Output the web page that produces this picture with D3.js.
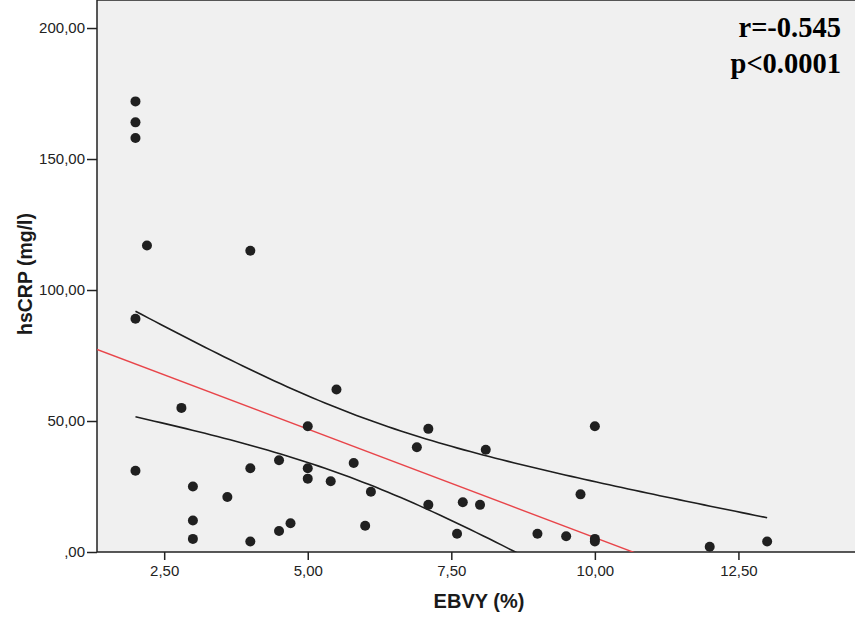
<!DOCTYPE html>
<html lang="en">
<head>
    <meta charset="UTF-8">
    <title>hsCRP vs EBVY</title>
    <script src="https://d3js.org/d3.v7.min.js"></script>
    <style>
        body { margin: 0; background: #fff; }
        svg { display: block; }
    </style>
</head>
<body>
    <!-- Div id for the chart -->
    <div id="my_dataviz"></div>

    <script>
        // data
        var ebvy = [2, 2, 2, 2.2, 2, 2, 2.8, 3, 3, 3, 3.6, 4, 4, 4, 4.5, 4.5, 4.7, 5, 5, 5,
            5.5, 5.4, 5.8, 6.1, 6.0, 6.9, 7.1, 7.1, 7.6, 7.7, 8.0, 8.1, 9.0, 9.5, 9.75, 10, 10, 10, 12, 13];
        var hscrp = [172, 164, 158, 117, 89, 31, 55, 25, 12, 5, 21, 115, 32, 4, 35, 8, 11, 48, 32, 28,
            62, 27, 34, 23, 10, 40, 47, 18, 7, 19, 18, 39, 7, 6, 22, 48, 5, 4, 2, 4];

        // tick values and their labels (comma decimals, as in the original)
        var xTicks = [2.5, 5, 7.5, 10, 12.5];
        var xTickLabels = ["2,50", "5,00", "7,50", "10,00", "12,50"];
        var yTicks = [0, 50, 100, 150, 200];
        var yTickLabels = [",00", "50,00", "100,00", "150,00", "200,00"];

        var statsText = ["r=-0.545", "p<0.0001"];

        // size of the picture and plot area
        var W = 855, H = 618;
        var plot = { left: 97, top: 0, right: 856, bottom: 552 };

        var svg = d3.select("#my_dataviz")
            .append("svg")
            .attr("width", W)
            .attr("height", H);

        // scales
        var x = d3.scaleLinear()
            .domain([1.33, 14.53])
            .range([plot.left, 855]);
        var y = d3.scaleLinear()
            .domain([0, 210.7])
            .range([plot.bottom, plot.top]);

        // grey plot background with frame
        svg.append("rect")
            .attr("x", plot.left)
            .attr("y", plot.top)
            .attr("width", plot.right - plot.left + 5)
            .attr("height", plot.bottom - plot.top)
            .attr("fill", "#f0f0f0")
            .attr("stroke", "#222")
            .attr("stroke-width", 1.5);

        // clip so the fit lines stop at the axes
        svg.append("clipPath")
            .attr("id", "clip")
            .append("rect")
            .attr("x", plot.left)
            .attr("y", plot.top)
            .attr("width", plot.right - plot.left)
            .attr("height", plot.bottom - plot.top);

        // linear regression + 95% CI of the mean
        var n = ebvy.length;
        var mx = d3.mean(ebvy), my = d3.mean(hscrp);
        var sxx = d3.sum(ebvy, function (d) { return (d - mx) * (d - mx); });
        var sxy = d3.sum(ebvy, function (d, i) { return (d - mx) * (hscrp[i] - my); });
        var slope = sxy / sxx;
        var icpt = my - slope * mx;
        var sse = d3.sum(ebvy, function (d, i) {
            var e = hscrp[i] - (icpt + slope * d);
            return e * e;
        });
        var se = Math.sqrt(sse / (n - 2));
        var tval = 2.024; // t(0.975, 38)

        function fit(v) { return icpt + slope * v; }
        function ci(v, sign) {
            return fit(v) + sign * tval * se * Math.sqrt(1 / n + (v - mx) * (v - mx) / sxx);
        }

        var lineGroup = svg.append("g").attr("clip-path", "url(#clip)");

        // red fit line over the whole x range
        var xs = x.domain();
        lineGroup.append("line")
            .attr("x1", x(xs[0]))
            .attr("y1", y(fit(xs[0])))
            .attr("x2", x(xs[1]))
            .attr("y2", y(fit(xs[1])))
            .attr("stroke", "#e8454a")
            .attr("stroke-width", 1.4);

        // confidence curves, only over the data range
        var xmin = d3.min(ebvy), xmax = d3.max(ebvy);
        var grid = d3.range(0, 101).map(function (i) { return xmin + (xmax - xmin) * i / 100; });
        var curve = d3.line()
            .x(function (d) { return x(d[0]); })
            .y(function (d) { return y(d[1]); });

        [1, -1].forEach(function (s) {
            lineGroup.append("path")
                .datum(grid.map(function (v) { return [v, ci(v, s)]; }))
                .attr("d", curve)
                .attr("fill", "none")
                .attr("stroke", "#1e1e1e")
                .attr("stroke-width", 1.6);
        });

        // dots
        svg.selectAll("circle.dot")
            .data(ebvy)
            .enter()
            .append("circle")
            .attr("class", "dot")
            .attr("cx", function (d) { return x(d); })
            .attr("cy", function (d, i) { return y(hscrp[i]); })
            .attr("r", 5)
            .attr("fill", "#202020");

        // Y axis
        svg.append("g")
            .attr("transform", "translate(" + plot.left + ",0)")
            .call(d3.axisLeft(y)
                .tickValues(yTicks)
                .tickSize(10)
                .tickPadding(2)
                .tickFormat(function (d, i) { return yTickLabels[i]; }))
            .call(function (g) { g.select(".domain").remove(); })
            .selectAll("text")
            .attr("font-family", "Liberation Sans, Arial, sans-serif")
            .attr("font-size", 15)
            .attr("fill", "#222");

        // X axis
        svg.append("g")
            .attr("transform", "translate(0," + plot.bottom + ")")
            .call(d3.axisBottom(x)
                .tickValues(xTicks)
                .tickSize(8)
                .tickPadding(5)
                .tickFormat(function (d, i) { return xTickLabels[i]; }))
            .call(function (g) { g.select(".domain").remove(); })
            .selectAll("text")
            .attr("font-family", "Liberation Sans, Arial, sans-serif")
            .attr("font-size", 15)
            .attr("fill", "#222");

        svg.selectAll(".tick line")
            .attr("stroke", "#222")
            .attr("stroke-width", 1.5);

        // axis titles
        svg.append("text")
            .attr("x", 479)
            .attr("y", 608)
            .attr("text-anchor", "middle")
            .attr("font-family", "Liberation Sans, Arial, sans-serif")
            .attr("font-weight", "bold")
            .attr("font-size", 20)
            .attr("fill", "#1a1a1a")
            .text("EBVY (%)");

        svg.append("text")
            .attr("transform", "translate(32,274) rotate(-90)")
            .attr("text-anchor", "middle")
            .attr("font-family", "Liberation Sans, Arial, sans-serif")
            .attr("font-weight", "bold")
            .attr("font-size", 19.5)
            .attr("fill", "#1a1a1a")
            .text("hsCRP (mg/l)");

        // correlation note, top right
        svg.selectAll("text.stat")
            .data(statsText)
            .enter()
            .append("text")
            .attr("class", "stat")
            .attr("x", 841)
            .attr("y", function (d, i) { return 37 + i * 36; })
            .attr("text-anchor", "end")
            .attr("font-family", "Liberation Serif, Times New Roman, serif")
            .attr("font-weight", "bold")
            .attr("font-size", 28.5)
            .attr("fill", "#000")
            .text(function (d) { return d; });
    </script>
</body>
</html>
